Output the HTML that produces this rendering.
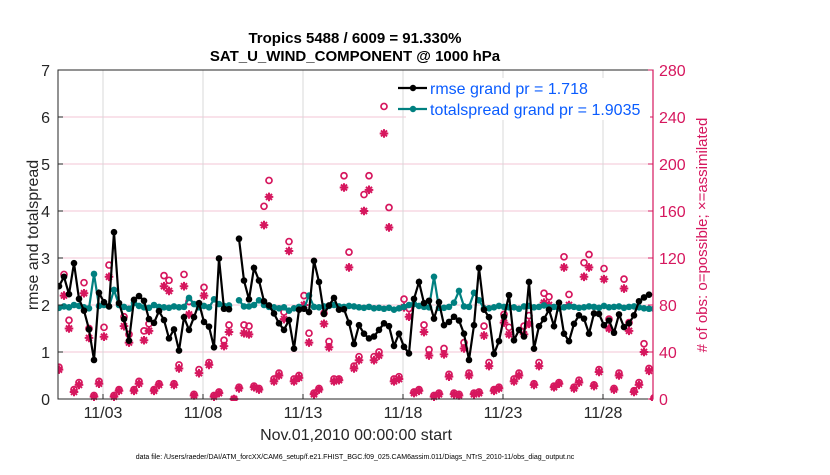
<!DOCTYPE html>
<html><head><meta charset="utf-8"><style>
body{margin:0;background:#fff;font-family:"Liberation Sans",sans-serif}
svg text{font-family:"Liberation Sans",sans-serif}
</style></head><body>
<svg id="c" width="830" height="470" viewBox="0 0 830 470"></svg>
<script>
const rmse=[2.40,2.60,2.23,2.89,2.13,1.88,1.48,0.83,2.26,2.06,1.97,3.55,2.04,1.70,1.24,2.11,2.19,2.09,1.70,1.62,1.87,1.68,1.29,1.48,1.03,1.74,1.47,1.74,2.04,1.64,1.54,
1.10,2.99,1.92,1.91,null,3.41,2.52,2.12,2.79,2.52,2.08,1.99,1.82,1.61,1.47,1.68,1.07,1.9,1.92,1.85,2.94,2.49,1.81,1.99,2.15,1.9,1.91,1.62,1.17,1.57,
1.39,1.29,1.33,1.47,1.61,1.55,1.13,1.39,1.11,0.97,2.13,2.49,2.04,2.09,1.71,2.06,1.57,1.64,1.75,1.67,1.39,0.83,1.57,2.79,1.9,1.74,0.96,1.23,1.75,2.21,
1.25,1.47,1.33,2.49,1.07,1.55,1.7,1.9,1.55,2.05,1.39,1.23,1.6,1.78,1.71,1.39,1.82,1.81,1.57,1.67,1.41,1.8,1.53,1.61,1.78,2.08,2.16,2.22,null];
const spread=[1.94,1.97,1.95,2.0,1.98,1.95,1.93,2.66,1.98,2.0,1.97,2.32,2.0,1.96,1.92,2.04,1.98,1.95,1.94,2.0,1.96,1.95,1.94,1.97,1.95,1.96,2.15,2.02,1.95,1.98,1.95,
2.12,2.02,1.98,1.99,null,2.1,1.97,1.97,2.0,2.1,2.0,1.96,1.95,1.93,1.95,1.88,1.93,1.96,1.93,2.2,1.96,1.95,1.97,1.98,2.0,1.97,1.96,1.98,1.97,1.95,
1.94,1.96,1.93,1.94,1.92,1.94,1.90,1.93,1.96,2.0,2.02,1.98,1.96,1.95,2.6,1.94,1.94,1.96,2.05,2.3,1.97,1.96,2.26,2.1,1.93,1.93,1.95,1.98,1.96,1.95,
1.95,1.92,1.97,1.98,1.95,1.96,1.99,1.95,1.96,1.93,1.95,1.97,1.96,1.94,1.95,1.97,1.96,1.94,1.98,1.95,1.96,1.97,1.94,1.96,1.97,1.95,1.93,1.92,1.92,null];
const obsPossible=[27,106,67,8,14,99,60,3,15,61,114,3,8,70,55,8,15,58,64,8,13,105,101,13,29,106,83,4,25,95,31,
3,6,50,63,0,10,63,62,11,9,164,186,17,22,74,134,17,20,88,56,5,9,73,49,17,17,190,125,28,36,
174,190,36,40,249,163,17,19,85,77,6,8,63,42,3,5,43,21,5,4,48,22,5,6,62,31,8,10,72,61,
17,22,62,71,13,31,90,87,11,14,121,89,10,16,116,123,12,25,111,68,9,22,102,65,7,14,47,26,1];
const obsAssim=[25,88,60,6,12,90,52,2,13,53,104,2,7,62,48,7,13,50,58,7,12,96,92,12,26,96,72,3,22,88,29,
2,5,45,57,0,9,56,55,10,8,148,172,15,20,68,126,15,18,80,48,4,8,64,44,15,16,180,112,26,33,
160,178,33,37,226,146,15,17,78,70,5,7,57,37,2,4,38,19,4,3,43,20,4,5,54,28,7,9,65,55,
15,20,55,64,12,28,82,80,10,13,112,80,9,14,104,112,11,23,102,60,8,20,94,58,6,12,40,24,0];
const tickDates=["11/03","11/08","11/13","11/18","11/23","11/28"];
const tickDays=[3,8,13,18,23,28];
const leftTicks=[0,1,2,3,4,5,6,7];
const rightTicks=[0,40,80,120,160,200,240,280];

const NS="http://www.w3.org/2000/svg",svg=document.getElementById('c');
const X0=58,X1=653,Y0=399,Y1=70,D0=0.75,D1=30.5,T0=0.8,STEP=0.25;
const xs=d=>X0+(d-D0)/(D1-D0)*(X1-X0);
const yl=v=>Y0-v/7*(Y0-Y1);
const yr=v=>Y0-v/280*(Y0-Y1);
const PINK="#d6175e",TEAL="#008080";
function el(t,a,p){const e=document.createElementNS(NS,t);for(const k in a)e.setAttribute(k,a[k]);(p||svg).appendChild(e);return e;}
el('rect',{x:X0,y:Y1,width:X1-X0,height:Y0-Y1,fill:'#fff'});
const grid=el('g',{});

rightTicks.forEach(v=>{el('line',{x1:X0,x2:X1,y1:yr(v),y2:yr(v),stroke:'#f3c6d6','stroke-width':1},grid);});
tickDays.forEach(d=>{el('line',{x1:xs(d),x2:xs(d),y1:Y1,y2:Y0,stroke:'#d8d8d8','stroke-width':1},grid);});
const defs=el('defs',{});const cp=el('clipPath',{id:'pc'},defs);el('rect',{x:X0,y:Y1-2,width:X1-X0,height:Y0-Y1+4},cp);
const plot=el('g',{'clip-path':'url(#pc)'});

const gp=el('g',{},plot);

obsPossible.forEach((v,i)=>{if(v==null)return;const c=el('circle',{cx:xs(T0+i*STEP),cy:yr(v),r:3,fill:'none',stroke:PINK,'stroke-width':1.7},gp);
});
const ga=el('g',{},plot);

obsAssim.forEach((v,i)=>{if(v==null)return;const cx=xs(T0+i*STEP),cy=yr(v),r=4.3;
const d=`M${cx-r} ${cy}H${cx+r}M${cx} ${cy-r}V${cy+r}M${cx-3} ${cy-3}L${cx+3} ${cy+3}M${cx-3} ${cy+3}L${cx+3} ${cy-3}`;
const p=el('path',{d:d,stroke:PINK,'stroke-width':2,fill:'none'},ga);
});
function series(arr,color,name){
  const g=el('g',{},plot);
  
  let d='',pen=false;
  arr.forEach((v,i)=>{if(v==null){pen=false;return;}d+=(pen?'L':'M')+xs(T0+i*STEP).toFixed(1)+' '+yl(v).toFixed(1);pen=true;});
  el('path',{d:d,fill:'none',stroke:color,'stroke-width':2.2},g);
  arr.forEach((v,i)=>{if(v==null)return;const c=el('circle',{cx:xs(T0+i*STEP),cy:yl(v),r:3.3,fill:color},g);
  });
}
series(spread,TEAL,'totalspread-line');
series(rmse,'#000','rmse-line');
el('rect',{x:X0,y:Y1,width:X1-X0,height:Y0-Y1,fill:'none',stroke:'#262626','stroke-width':1});
el('line',{x1:X1,x2:X1,y1:Y1,y2:Y0,stroke:PINK,'stroke-width':1.2});
const la=el('g',{});
leftTicks.forEach(v=>{el('line',{x1:X0,x2:X0+5,y1:yl(v),y2:yl(v),stroke:'#262626'},la);
const t=el('text',{x:X0-8,y:yl(v)+6,'text-anchor':'end','font-size':16,fill:'#262626'},la);t.textContent=v;});
const ra=el('g',{});
rightTicks.forEach(v=>{el('line',{x1:X1-5,x2:X1,y1:yr(v),y2:yr(v),stroke:PINK},ra);
const t=el('text',{x:X1+6,y:yr(v)+6,'font-size':16,fill:PINK},ra);t.textContent=v;});
const xa=el('g',{});
tickDays.forEach((d,i)=>{el('line',{x1:xs(d),x2:xs(d),y1:Y0,y2:Y0-5,stroke:'#262626'},xa);
const t=el('text',{x:xs(d),y:418,'text-anchor':'middle','font-size':16,fill:'#262626'},xa);t.textContent=tickDates[i];});
</script>
<svg width="830" height="470" style="position:absolute;left:0;top:0">
<text x="355" y="43" text-anchor="middle" font-size="15" font-weight="bold" fill="#000">Tropics 5488 / 6009 = 91.330%</text>
<text x="355" y="61" text-anchor="middle" font-size="15" font-weight="bold" fill="#000">SAT_U_WIND_COMPONENT @ 1000 hPa</text>
<text transform="translate(38,235) rotate(-90)" text-anchor="middle" font-size="16" fill="#262626">rmse and totalspread</text>
<text transform="translate(707,235) rotate(-90)" text-anchor="middle" font-size="15" fill="#d6175e"># of obs: o=possible; ×=assimilated</text>
<text x="356" y="440" text-anchor="middle" font-size="16" fill="#262626">Nov.01,2010 00:00:00 start</text>
<text x="355" y="459" text-anchor="middle" font-size="7" fill="#000">data file: /Users/raeder/DAI/ATM_forcXX/CAM6_setup/f.e21.FHIST_BGC.f09_025.CAM6assim.011/Diags_NTrS_2010-11/obs_diag_output.nc</text>
<g>
<rect x="406" y="78" width="244" height="42" fill="#fff"/>
<line x1="398" x2="427" y1="88" y2="88" stroke="#000" stroke-width="2.2"/><circle cx="413" cy="88" r="3.2" fill="#000"/>
<text x="430" y="94" font-size="16" fill="#0a5cff">rmse grand pr = 1.718</text>
<line x1="398" x2="427" y1="109" y2="109" stroke="#008080" stroke-width="2.2"/><circle cx="413" cy="109" r="3.2" fill="#008080"/>
<text x="430" y="115" font-size="16" fill="#0a5cff">totalspread grand pr = 1.9035</text>
</g>
</svg>
</body></html>
